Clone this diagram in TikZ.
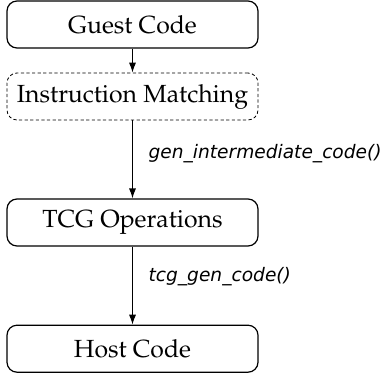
\documentclass[tikz,border=0pt]{standalone}
\usepackage{fontspec}
\newfontfamily\callfont{DejaVu Sans Oblique}
\newcommand{\boxfont}{\fontencoding{OT1}\fontfamily{ppl}\selectfont}
\usetikzlibrary{positioning,arrows.meta}

\begin{document}
\begin{tikzpicture}[node distance=39pt]
        \tikzstyle{block} = [draw,rounded corners=5pt,semithick,minimum width=125.5pt,minimum height=23.5pt,font=\boxfont\fontsize{12.4}{14}\selectfont]
        \tikzstyle{call} = [right,font=\callfont\fontsize{9.3}{11}\selectfont,inner sep=0pt,xshift=7.75pt]
        \tikzstyle{flow} = [semithick,-{Latex[length=5pt,width=3.6pt]}]
        \useasboundingbox (0,0) rectangle (192pt,-187pt);
        \node [block] (guest) at (66.25pt,-12.25pt) {Guest Code};
        \node [block, thin, dash pattern=on 1.6pt off 1.2pt, below = 12pt of guest] (match) {Instruction Matching};
        \node [block, below = of match] (tcg) {TCG Operations};
        \node [block, below = of tcg] (host) {Host Code};
        \draw[flow] (guest) -- (match);
        \draw[flow] (match) -- node[call,pos=0.42]{gen\_intermediate\_code()} (tcg);
        \draw[flow] (tcg) -- node[call,pos=0.38]{tcg\_gen\_code()} (host);
      \end{tikzpicture}
\end{document}
